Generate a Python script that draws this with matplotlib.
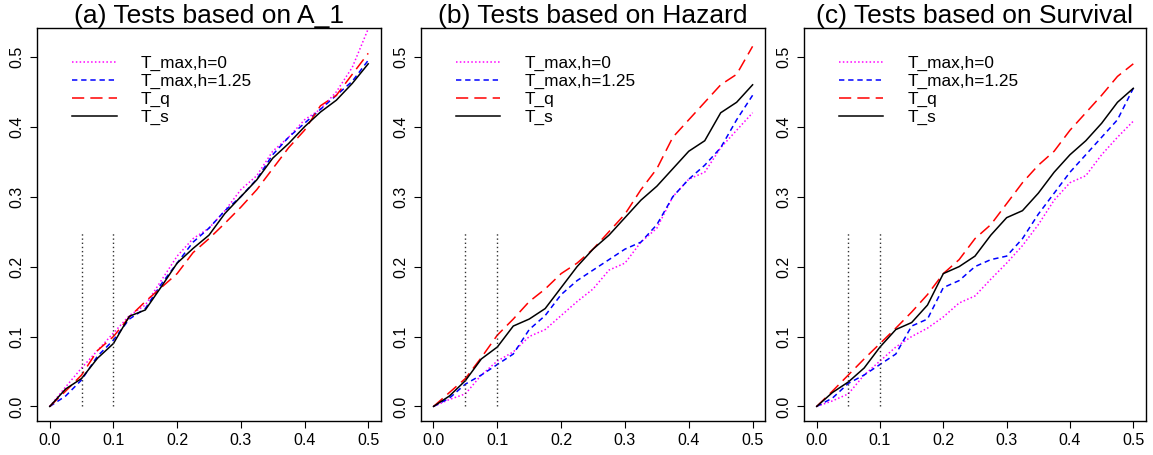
import matplotlib
matplotlib.use("Agg")
import matplotlib.pyplot as plt

plt.rcParams['font.family'] = ['Liberation Sans', 'DejaVu Sans']

# nominal level on the x axis
alpha = [0.0, 0.025, 0.05, 0.075, 0.1, 0.125, 0.15, 0.175, 0.2, 0.225, 0.25,
         0.275, 0.3, 0.325, 0.35, 0.375, 0.4, 0.425, 0.45, 0.475, 0.5]

# (a) tests based on A_1
a_tmax_h0 = [0.0, 0.028, 0.055, 0.08, 0.105, 0.13, 0.145, 0.18, 0.215, 0.24, 0.255,
             0.28, 0.31, 0.33, 0.365, 0.385, 0.41, 0.425, 0.45, 0.485, 0.54]
a_tmax_h125 = [0.0, 0.015, 0.038, 0.072, 0.095, 0.125, 0.14, 0.175, 0.205, 0.235, 0.255,
               0.28, 0.30, 0.325, 0.36, 0.385, 0.405, 0.425, 0.445, 0.465, 0.495]
a_tq = [0.0, 0.022, 0.045, 0.08, 0.1, 0.128, 0.15, 0.17, 0.19, 0.22, 0.24,
        0.262, 0.285, 0.31, 0.34, 0.37, 0.395, 0.43, 0.445, 0.475, 0.505]
a_ts = [0.0, 0.025, 0.04, 0.069, 0.09, 0.129, 0.138, 0.171, 0.205, 0.226, 0.245,
        0.276, 0.30, 0.324, 0.355, 0.376, 0.40, 0.421, 0.438, 0.462, 0.49]

# (b) tests based on Hazard
b_tmax_h0 = [0.0, 0.01, 0.018, 0.045, 0.065, 0.078, 0.1, 0.11, 0.13, 0.15, 0.168,
             0.195, 0.205, 0.235, 0.255, 0.3, 0.325, 0.335, 0.37, 0.395, 0.42]
b_tmax_h125 = [0.0, 0.012, 0.032, 0.045, 0.06, 0.075, 0.11, 0.13, 0.16, 0.18, 0.195,
               0.21, 0.225, 0.235, 0.26, 0.3, 0.325, 0.345, 0.37, 0.41, 0.445]
b_tq = [0.0, 0.02, 0.04, 0.07, 0.102, 0.125, 0.15, 0.168, 0.19, 0.205, 0.225,
        0.25, 0.275, 0.31, 0.34, 0.385, 0.41, 0.435, 0.46, 0.475, 0.515]
b_ts = [0.0, 0.015, 0.037, 0.068, 0.085, 0.115, 0.125, 0.14, 0.17, 0.2, 0.225,
        0.245, 0.27, 0.295, 0.315, 0.34, 0.365, 0.38, 0.42, 0.435, 0.46]

# (c) tests based on Survival
c_tmax_h0 = [0.0, 0.008, 0.018, 0.045, 0.065, 0.085, 0.1, 0.112, 0.128, 0.148, 0.158,
             0.182, 0.205, 0.23, 0.26, 0.295, 0.32, 0.33, 0.36, 0.385, 0.408]
c_tmax_h125 = [0.0, 0.012, 0.033, 0.045, 0.06, 0.075, 0.115, 0.125, 0.17, 0.18, 0.2,
               0.21, 0.215, 0.24, 0.275, 0.305, 0.335, 0.36, 0.385, 0.41, 0.455]
c_tq = [0.0, 0.022, 0.045, 0.068, 0.09, 0.112, 0.135, 0.16, 0.19, 0.21, 0.24,
        0.26, 0.29, 0.32, 0.345, 0.365, 0.395, 0.42, 0.445, 0.472, 0.49]
c_ts = [0.0, 0.02, 0.035, 0.055, 0.085, 0.11, 0.12, 0.145, 0.19, 0.2, 0.215,
        0.245, 0.27, 0.28, 0.305, 0.335, 0.36, 0.38, 0.405, 0.435, 0.455]

titles = ["(a) Tests based on A_1", "(b) Tests based on Hazard",
          "(c) Tests based on Survival"]
labels = ["T_max,h=0", "T_max,h=1.25", "T_q", "T_s"]
panels = [
    [a_tmax_h0, a_tmax_h125, a_tq, a_ts],
    [b_tmax_h0, b_tmax_h125, b_tq, b_ts],
    [c_tmax_h0, c_tmax_h125, c_tq, c_ts],
]
ref_levels = [0.05, 0.1]

colors = ["#FF00FF", "#0000FF", "#FF0000", "#000000"]
styles = [(0, (1, 1.5)), (0, (3.5, 2.5)), (0, (8, 4)), "-"]

fig = plt.figure(figsize=(11.53, 4.55), dpi=100)
lefts = [0.0321, 0.3649, 0.6973]
widths = [0.2983, 0.2989, 0.2966]

for i, series in enumerate(panels):
    ax = fig.add_axes([lefts[i], 0.0747, widths[i], 0.8631])
    for ys, lab, col, ls in zip(series, labels, colors, styles):
        ax.plot(alpha, ys, color=col, linestyle=ls, lw=1.1, label=lab)
    for lv in ref_levels:
        ax.plot([lv, lv], [0, 0.25], color="#333333", linestyle=(0, (1, 2)), lw=1.0)

    ax.set_xlim(-0.02, 0.52)
    ax.set_ylim(-0.0208, 0.5408)
    ax.set_xticks([0.0, 0.1, 0.2, 0.3, 0.4, 0.5])
    ax.set_yticks([0.0, 0.1, 0.2, 0.3, 0.4, 0.5])
    ax.set_xticklabels(["0.0", "0.1", "0.2", "0.3", "0.4", "0.5"])
    ax.set_yticklabels(["0.0", "0.1", "0.2", "0.3", "0.4", "0.5"],
                       rotation=90, va="center")
    ax.tick_params(direction="out", length=5, width=0.8, labelsize=11.5, pad=3.5)
    ax.tick_params(axis="y", pad=4)
    for sp in ax.spines.values():
        sp.set_linewidth(1.0)
    ax.set_title(titles[i], fontsize=19, pad=4)

    ax.legend(loc="upper left", bbox_to_anchor=(0.101, 0.929), frameon=False,
              fontsize=12.4, handlelength=2.6, handletextpad=1.4,
              labelspacing=0.16, borderpad=0, borderaxespad=0)

fig.savefig("out.png", dpi=100)
